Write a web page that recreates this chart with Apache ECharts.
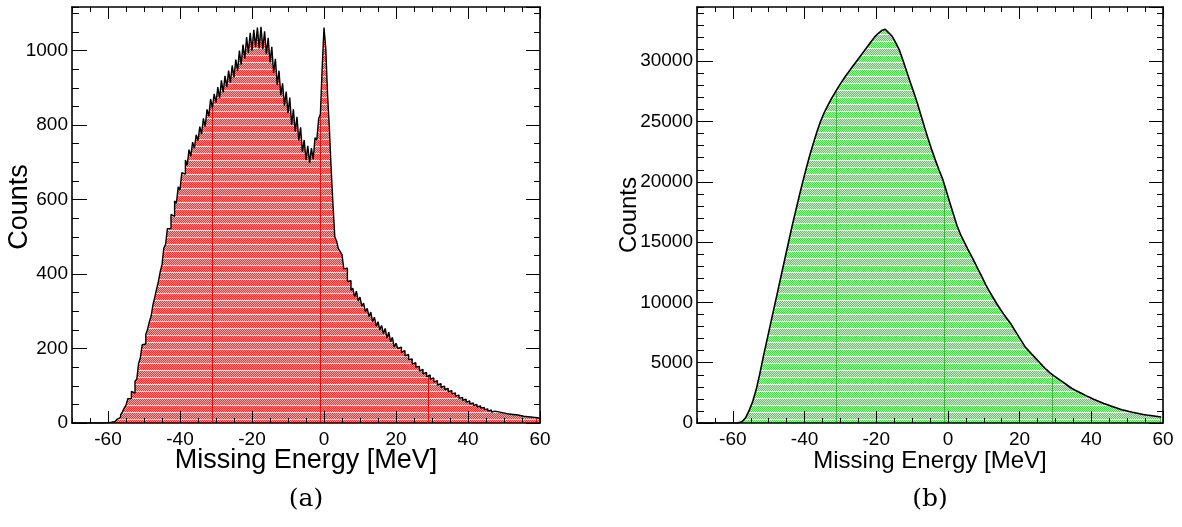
<!DOCTYPE html>
<html><head><meta charset="utf-8">
<script src="https://cdn.jsdelivr.net/npm/echarts@6/dist/echarts.min.js"></script>
<style>html,body{margin:0;padding:0;background:#fff}#c{width:1182px;height:527px}</style>
</head><body><div id="c"></div>
<script>
// ---- data ----
const xMin = -70, xMax = 60;
const xLabelMin = -60;       // first labelled tick
const xMajorStep = 20;
const leftBinWidth = 0.5;   // MeV
const rightBinWidth = 1.0;  // MeV
const leftYMax = 1117, rightYMax = 34500;
// panel (a): counts per 0.5 MeV bin starting at -70 MeV
const leftCounts = [
  0,0,0,0,0,0,0,0,0,0,
  0,0,1,0,0,0,1,0,0,1,
  1,2,2,4,6,10,15,22,30,40,
  48,65,66,85,80,112,118,160,176,210,
  212,238,252,272,288,318,338,360,380,406,
  425,470,480,522,522,560,555,596,590,634,
  626,672,668,706,692,734,716,754,738,774,
  758,796,776,818,796,842,824,870,846,884,
  860,902,872,920,888,932,902,946,914,960,
  928,976,946,1000,962,1016,978,1036,994,1048,
  1000,1056,1010,1062,1006,1064,1004,1052,990,1034,
  968,1010,940,978,908,946,880,912,852,890,
  832,874,800,842,782,822,758,794,728,760,
  706,744,698,738,708,766,760,816,830,955,
  1062,1005,880,790,680,585,500,488,468,460,
  452,414,416,380,382,356,362,338,354,328,
  338,314,322,298,308,286,298,272,284,260,
  272,250,262,240,254,228,244,218,230,204,
  214,200,204,190,194,180,184,170,172,158,
  162,150,152,140,144,132,136,124,129,118,
  121,110,114,102,106,96,99,90,93,84,
  87,78,81,72,75,66,69,61,64,56,
  59,51,54,47,50,43,46,40,42,36,
  38,32,35,29,32,27,30,25,28,23,
  26,21,24,19,23,18,22,17,20,15,
  18,13,17,12,16,11,15,10,14,10
];
// panel (b): counts per 1 MeV bin starting at -70 MeV
const rightCounts = [
  0,0,0,0,0,0,0,0,0,0,
  0,10,100,400,1000,1750,2750,4050,5500,6850,
  8200,9550,10900,12250,13600,14950,16300,17550,18800,20000,
  21150,22250,23250,24200,25050,25750,26350,26900,27400,27900,
  28350,28800,29200,29600,30000,30400,30800,31200,31600,32000,
  32300,32550,32650,32350,32050,31500,30900,30050,29150,28250,
  27400,26500,25500,24500,23550,22650,21800,21000,20250,19300,
  18300,17350,16400,15650,15050,14450,13880,13300,12700,12120,
  11500,10950,10450,9950,9500,9050,8650,8250,7770,7290,
  6810,6330,6000,5680,5360,5040,4720,4420,4150,3930,
  3720,3510,3300,3090,2880,2720,2570,2420,2270,2130,
  1990,1860,1740,1620,1510,1400,1300,1200,1100,1030,
  960,890,830,770,710,660,620,580,540,500
];

function toSteps(counts, w) {
  const pts = counts.map((v, i) => [xMin + i * w, v]);
  pts.push([xMin + counts.length * w, counts[counts.length - 1]]);
  return pts;
}
function toCenters(counts, w) {
  return counts.map((v, i) => [xMin + (i + 0.5) * w, v]);
}

function makePattern(c1, c2, lineC, darkC, phase) {
  const W = 108, H = 7;
  const cv = document.createElement('canvas');
  cv.width = W; cv.height = H;
  const ctx = cv.getContext('2d');
  for (let y = 0; y < H; y++) {
    for (let x = 0; x < W; x++) {
      let col = (y === H - 1) ? lineC : (((x + y) % 2 === 0) ? c1 : c2);
      if (x === phase) col = darkC;
      ctx.fillStyle = col;
      ctx.fillRect(x, y, 1, 1);
    }
  }
  return cv;
}

const redPat = makePattern('#ff2a2a', '#ffa0a0', '#ffd6d6', '#e01010', 104);
const greenPat = makePattern('#4cd24c', '#bff0bf', '#e4f8e4', '#40b440', 80);

const tickFont = {fontFamily: 'Liberation Sans', fontSize: 19, color: '#000'};
const frame = {show: true, onZero: false, lineStyle: {color: '#000', width: 1.6}};
const noLine = {show: false, onZero: false};
const plain = v => String(v);
const tk = (len) => ({show: true, inside: true, length: len, lineStyle: {color: '#000', width: 1}});
const AZL = 1;  // axes drawn on a layer above the filled histograms

function panelAxes(gi, yMax, yMajor, yMinor, yLen) {
  const gMinor = gi * 3, gMajor = gi * 3 + 1, gXMaj = gi * 3 + 2;
  const xs = [
    {gridIndex: gMinor, zlevel: AZL, type: 'value', position: 'bottom', min: xMin, max: xMax, interval: 5,
     axisLine: noLine, axisTick: tk(5), axisLabel: {show: false}, splitLine: {show: false}},
    {gridIndex: gMinor, zlevel: AZL, type: 'value', position: 'top', min: xMin, max: xMax, interval: 5,
     axisLine: noLine, axisTick: tk(5), axisLabel: {show: false}, splitLine: {show: false}},
    {gridIndex: gMajor, zlevel: AZL, type: 'value', position: 'bottom', min: xMin, max: xMax,
     axisLine: frame, axisTick: {show: false}, axisLabel: {show: false}, splitLine: {show: false}},
    {gridIndex: gMajor, zlevel: AZL, type: 'value', position: 'top', min: xMin, max: xMax,
     axisLine: frame, axisTick: {show: false}, axisLabel: {show: false}, splitLine: {show: false}},
    {gridIndex: gXMaj, zlevel: AZL, type: 'value', position: 'bottom', min: xLabelMin, max: xMax, interval: xMajorStep,
     axisLine: noLine, axisTick: tk(12),
     axisLabel: Object.assign({show: true, margin: 7, formatter: plain}, tickFont), splitLine: {show: false}},
    {gridIndex: gXMaj, zlevel: AZL, type: 'value', position: 'top', min: xLabelMin, max: xMax, interval: xMajorStep,
     axisLine: noLine, axisTick: tk(12), axisLabel: {show: false}, splitLine: {show: false}}
  ];
  const ys = [
    {gridIndex: gMinor, zlevel: AZL, type: 'value', position: 'left', min: 0, max: yMax, interval: yMinor,
     axisLine: noLine, axisTick: tk(7), axisLabel: {show: false}, splitLine: {show: false}},
    {gridIndex: gMinor, zlevel: AZL, type: 'value', position: 'right', min: 0, max: yMax, interval: yMinor,
     axisLine: noLine, axisTick: tk(6), axisLabel: {show: false}, splitLine: {show: false}},
    {gridIndex: gMajor, zlevel: AZL, type: 'value', position: 'left', min: 0, max: yMax, interval: yMajor,
     axisLine: frame, axisTick: tk(yLen),
     axisLabel: Object.assign({show: true, margin: 4, showMaxLabel: false, formatter: plain}, tickFont), splitLine: {show: false}},
    {gridIndex: gMajor, zlevel: AZL, type: 'value', position: 'right', min: 0, max: yMax, interval: yMajor,
     axisLine: frame, axisTick: tk(14), axisLabel: {show: false}, splitLine: {show: false}},
    {gridIndex: gXMaj, type: 'value', position: 'left', min: 0, max: yMax, show: false},
    {gridIndex: gXMaj, type: 'value', position: 'right', min: 0, max: yMax, show: false}
  ];
  return {xs, ys};
}

const pA = panelAxes(0, leftYMax, 200, 50, 15);
const pB = panelAxes(1, rightYMax, 5000, 1000, 16);
const xAxes = pA.xs.concat(pB.xs);
const yAxes = pA.ys.concat(pB.ys);

const gA = {left: 72, top: 7, width: 468, height: 416};
const gB = {left: 697, top: 7, width: 466, height: 416};
// sub-grid covering only the labelled x range (-60..60) of the same panel
function labelGrid(g) {
  const frac = (xLabelMin - xMin) / (xMax - xMin);
  const off = g.width * frac;
  return {left: g.left + off, top: g.top, width: g.width - off, height: g.height};
}

const chart = echarts.init(document.getElementById('c'), null, {renderer: 'canvas'});
chart.setOption({
  animation: false,
  backgroundColor: '#fff',
  grid: [
    Object.assign({}, gA), Object.assign({}, gA), labelGrid(gA),
    Object.assign({}, gB), Object.assign({}, gB), labelGrid(gB)
  ],
  xAxis: xAxes,
  yAxis: yAxes,
  series: [
    {type: 'line', xAxisIndex: 2, yAxisIndex: 2, data: toSteps(leftCounts, leftBinWidth), step: 'end',
     symbol: 'none', lineStyle: {color: '#000', width: 1.4},
     areaStyle: {color: {image: redPat, repeat: 'repeat'}, opacity: 1}, z: 1},
    {type: 'line', xAxisIndex: 8, yAxisIndex: 8, data: toCenters(rightCounts, rightBinWidth),
     symbol: 'none', lineStyle: {color: '#000', width: 1.6},
     areaStyle: {color: {image: greenPat, repeat: 'repeat'}, opacity: 1}, z: 1}
  ],
  graphic: [
    {type: 'text', x: 306, y: 461, style: {text: 'Missing Energy [MeV]', font: '27px "Liberation Sans"', fill: '#000', align: 'center', verticalAlign: 'middle'}},
    {type: 'text', x: 930, y: 461, style: {text: 'Missing Energy [MeV]', font: '24px "Liberation Sans"', fill: '#000', align: 'center', verticalAlign: 'middle'}},
    {type: 'text', x: 20, y: 207, rotation: Math.PI / 2, style: {text: 'Counts', font: '27px "Liberation Sans"', fill: '#000', align: 'center', verticalAlign: 'middle'}},
    {type: 'text', x: 629, y: 215, rotation: Math.PI / 2, style: {text: 'Counts', font: '24px "Liberation Sans"', fill: '#000', align: 'center', verticalAlign: 'middle'}},
    {type: 'text', x: 306, y: 499, style: {text: '(a)', font: '25px "DejaVu Serif"', fill: '#000', align: 'center', verticalAlign: 'middle'}},
    {type: 'text', x: 930, y: 499, style: {text: '(b)', font: '25px "DejaVu Serif"', fill: '#000', align: 'center', verticalAlign: 'middle'}}
  ]
});
</script></body></html>
